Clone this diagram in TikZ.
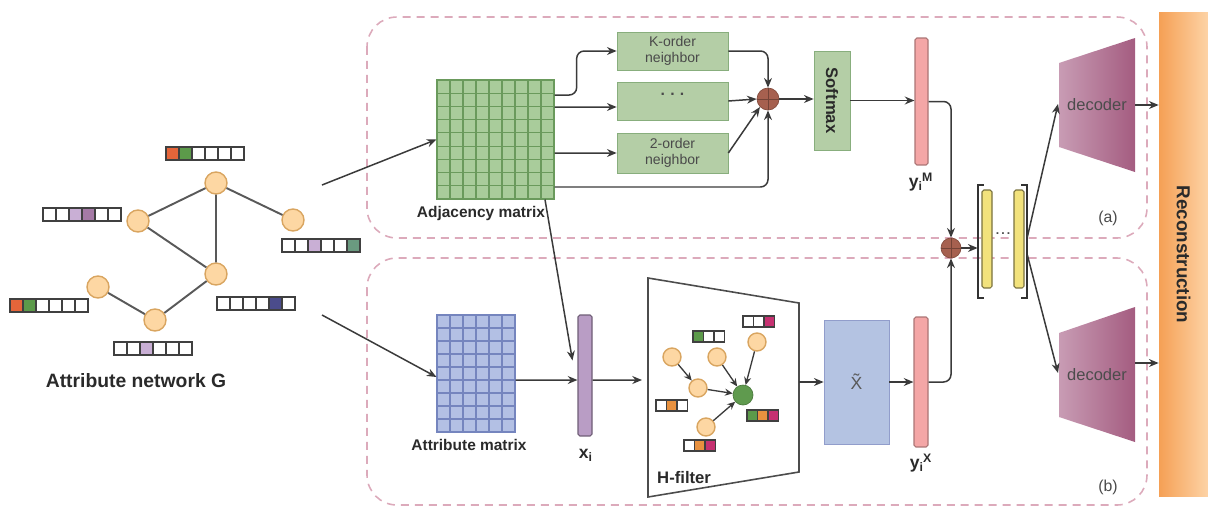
\documentclass[tikz,border=0pt]{standalone}
\usepackage{fontspec}
\setmainfont{Liberation Sans}
\usepackage{amsmath}
\usepackage{tikz}
\usetikzlibrary{arrows.meta}

\definecolor{arrowgray}{HTML}{3A3A3A}
\definecolor{lblgray}{HTML}{2A2A2A}
\definecolor{txtgray}{HTML}{4A4A4A}
\definecolor{framepink}{HTML}{DCAABB}
\definecolor{nodeorange}{HTML}{FDD7A3}
\definecolor{nodeedge}{HTML}{D9A560}
\definecolor{nodegreen}{HTML}{5F9A4E}
\definecolor{adjgreen}{HTML}{A9CC9B}
\definecolor{adjline}{HTML}{6A9A5C}
\definecolor{boxgreen}{HTML}{B4CEA6}
\definecolor{attrblue}{HTML}{B3C0E4}
\definecolor{attrline}{HTML}{7585BE}
\definecolor{xtblue}{HTML}{B4C3E2}
\definecolor{barpink}{HTML}{F4A6A6}
\definecolor{barpurple}{HTML}{B99DC5}
\definecolor{catyellow}{HTML}{F2E27C}
\definecolor{opbrown}{HTML}{A6604F}
\definecolor{decl}{HTML}{C89CB4}
\definecolor{decr}{HTML}{A45C80}
\definecolor{recl}{HTML}{F5A055}
\definecolor{recr}{HTML}{FDD3A6}
\definecolor{vred}{HTML}{E5653A}
\definecolor{vgreen}{HTML}{5C9A4A}
\definecolor{vlpurple}{HTML}{C9AFD5}
\definecolor{vpurple}{HTML}{A57AA6}
\definecolor{vteal}{HTML}{6A9A80}
\definecolor{vblue}{HTML}{4B4C8C}
\definecolor{vorange}{HTML}{E8913F}
\definecolor{vmagenta}{HTML}{C63171}

\begin{document}
\begin{tikzpicture}[x=0.02cm, y=-0.02cm,
    conn/.style={draw=arrowgray, line width=0.85pt, -{Stealth[length=5.5pt,width=4.5pt]}},
    elbow/.style={conn, rounded corners=0.15cm},
    thinconn/.style={draw=arrowgray, line width=0.75pt, -{Stealth[length=4.5pt,width=4pt]}},
    frame/.style={draw=framepink, line width=0.9pt, dash pattern=on 0.16cm off 0.12cm, rounded corners=0.6cm},
    gnode/.style={circle, fill=nodeorange, draw=nodeedge, line width=0.8pt, minimum size=0.44cm, inner sep=0},
    gedge/.style={draw=black!65, line width=1.1pt},
    cell/.style={draw=black!75, line width=0.6pt},
    lbl/.style={font=\bfseries\fontsize{8.8}{10}\selectfont, text=lblgray},
    greenbox/.style={draw=adjline!80, fill=boxgreen, inner sep=0, align=center,
        minimum width=2.22cm, font=\fontsize{8}{9.5}\selectfont, text=txtgray},
    bar/.style={rectangle, rounded corners=1pt, inner sep=0, line width=0.6pt},
    oplus/.style={circle, fill=opbrown, draw=opbrown!80!black, inner sep=0, minimum size=0.44cm},
    dectext/.style={font=\fontsize{9.4}{11}\selectfont, text=black!70}
]
\useasboundingbox (0,0) rectangle (1208,508);

% Dashed frames (a) and (b)
\draw[frame] (367,17) rectangle (1147,238);
\draw[frame] (367,258) rectangle (1147,505);
\node[font=\fontsize{9}{11}\selectfont, text=txtgray] (tagA) at (1108,218) {(a)};
\node[font=\fontsize{9}{11}\selectfont, text=txtgray] (tagB) at (1108,487) {(b)};

% Attribute network
\node[gnode] (gA) at (216,183) {};
\node[gnode] (gB) at (138,221) {};
\node[gnode] (gC) at (293,220) {};
\node[gnode] (gD) at (216,274) {};
\node[gnode] (gE) at (98,287) {};
\node[gnode] (gF) at (155,320) {};
\draw[gedge] (gA) -- (gB) (gA) -- (gC) (gA) -- (gD) (gB) -- (gD) (gD) -- (gF) (gE) -- (gF);

% Node attribute vectors
\foreach \c [count=\i from 0] in {vred,vgreen,white,white,white,white}
    \draw[cell, fill=\c] (166+13*\i,147) rectangle ++(13,13);
\foreach \c [count=\i from 0] in {white,white,vlpurple,vpurple,white,white}
    \draw[cell, fill=\c] (43+13*\i,208) rectangle ++(13,13);
\foreach \c [count=\i from 0] in {white,white,vlpurple,white,white,vteal}
    \draw[cell, fill=\c] (282+13*\i,239) rectangle ++(13,13);
\foreach \c [count=\i from 0] in {white,white,white,white,vblue,white}
    \draw[cell, fill=\c] (217+13*\i,297) rectangle ++(13,13);
\foreach \c [count=\i from 0] in {vred,vgreen,white,white,white,white}
    \draw[cell, fill=\c] (10+13*\i,299) rectangle ++(13,13);
\foreach \c [count=\i from 0] in {white,white,vlpurple,white,white,white}
    \draw[cell, fill=\c] (114+13*\i,342) rectangle ++(13,13);
\node[lbl, font=\bfseries\fontsize{11}{13}\selectfont] (gname) at (136,381) {Attribute network G};

\coordinate (gT) at (322,185);
\coordinate (gBt) at (322,315);

% Adjacency matrix
\node[draw=adjline, fill=adjgreen, line width=0.6pt, inner sep=0,
    minimum width=2.34cm, minimum height=2.38cm] (adj) at (495.5,139.5) {};
\foreach \i in {1,...,8} {
    \draw[adjline, line width=0.6pt] (437+13*\i,80) -- (437+13*\i,199);
    \draw[adjline, line width=0.6pt] (437,80+13.22*\i) -- (554,80+13.22*\i);
}
\node[lbl] (adjname) at (481,213) {Adjacency matrix};

% Attribute matrix
\node[draw=attrline, fill=attrblue, line width=0.6pt, inner sep=0,
    minimum width=1.56cm, minimum height=2.34cm] (attr) at (476,373.5) {};
\foreach \i in {1,...,5}
    \draw[attrline, line width=0.6pt] (437+13*\i,315) -- (437+13*\i,432);
\foreach \j in {1,...,8}
    \draw[attrline, line width=0.6pt] (437,315+13*\j) -- (515,315+13*\j);
\node[lbl] (attrname) at (469,445) {Attribute matrix};

% Neighbour branches
\node[greenbox, minimum height=0.76cm] (kord) at (672.5,51) {K-order\\neighbor};
\node[greenbox, minimum height=0.76cm, anchor=center] (dots) at (672.5,101) {};
\node[font=\bfseries\fontsize{9}{10}\selectfont, text=txtgray] (dotstext) at (672.5,94) {.\,\,.\,\,.};
\node[greenbox, minimum height=0.8cm] (sord) at (672.5,153) {2-order\\neighbor};
\node[oplus] (oplusT) at (768,99) {};
\draw[opbrown!70!black, line width=0.3pt] (oplusT.north) -- (oplusT.south) (oplusT.west) -- (oplusT.east);
\node[greenbox, minimum width=0.72cm, minimum height=1.98cm, text=lblgray] (soft) at (832,100.5)
    {\rotatebox{-90}{\bfseries\fontsize{9.5}{11}\selectfont Softmax}};
\node[bar, fill=barpink, draw=barpink!70!black, minimum width=0.26cm, minimum height=2.54cm] (yM) at (921.5,101.5) {};
\node[lbl, font=\bfseries\fontsize{10}{12}\selectfont] (yMname) at (921,182) {y$_\text{i}$\kern-0.05em$^\text{M}$};

% Attribute branch
\node[bar, fill=barpurple, draw=barpurple!60!black, minimum width=0.28cm, minimum height=2.42cm] (xi) at (585,375.5) {};
\node[lbl, font=\bfseries\fontsize{10}{12}\selectfont] (xiname) at (586,455) {x$_\text{i}$};

% H-filter
\draw[draw=black!70, line width=0.9pt] (648,278) -- (799,303) -- (799,472) -- (648,497) -- cycle;
\coordinate (hfW) at (648,380);
\coordinate (hfE) at (799,382);
\node[lbl, font=\bfseries\fontsize{9.5}{11}\selectfont, anchor=west] (hfname) at (651,478) {H-filter};
\node[gnode, minimum size=0.36cm] (h1) at (672,357) {};
\node[gnode, minimum size=0.36cm] (h2) at (717,357) {};
\node[gnode, minimum size=0.36cm] (h3) at (757,342) {};
\node[gnode, minimum size=0.36cm] (h4) at (698,388) {};
\node[gnode, minimum size=0.36cm] (h5) at (706,427) {};
\node[circle, fill=nodegreen, draw=nodegreen!80!black, inner sep=0, minimum size=0.4cm] (hc) at (743,395) {};
\draw[thinconn] (h1) -- (h4);
\draw[thinconn] (h4) -- (hc);
\draw[thinconn] (h2) -- (hc);
\draw[thinconn] (h3) -- (hc);
\draw[thinconn] (h5) -- (hc);
\foreach \c [count=\i from 0] in {vgreen,white,white}
    \draw[cell, fill=\c] (693+10.5*\i,331) rectangle ++(10.5,11);
\foreach \c [count=\i from 0] in {white,white,vmagenta}
    \draw[cell, fill=\c] (743+10.5*\i,316) rectangle ++(10.5,11);
\foreach \c [count=\i from 0] in {white,vorange,white}
    \draw[cell, fill=\c] (656+10.5*\i,400) rectangle ++(10.5,11);
\foreach \c [count=\i from 0] in {white,vorange,vmagenta}
    \draw[cell, fill=\c] (684+10.5*\i,440) rectangle ++(10.5,11);
\foreach \c [count=\i from 0] in {vgreen,vorange,vmagenta}
    \draw[cell, fill=\c] (747+10.5*\i,410) rectangle ++(10.5,11);

% Reconstructed features
\node[draw=attrline!80, fill=xtblue, inner sep=0, minimum width=1.3cm, minimum height=2.48cm,
    font=\fontsize{10}{12}\selectfont, text=black!65] (xt) at (856.5,382) {\~{X}};
\node[bar, fill=barpink, draw=barpink!70!black, minimum width=0.28cm, minimum height=2.6cm] (yX) at (921,382) {};
\node[lbl, font=\bfseries\fontsize{10}{12}\selectfont] (yXname) at (921,463) {y$_\text{i}$\kern-0.05em$^\text{X}$};

% Fusion and concatenation
\node[oplus, minimum size=0.4cm] (oplusB) at (951,248) {};
\draw[opbrown!70!black, line width=0.3pt] (oplusB.north) -- (oplusB.south) (oplusB.west) -- (oplusB.east);
\node[inner sep=0, minimum width=0.98cm, minimum height=2.26cm] (cat) at (1002.5,241.5) {};
\draw[black!80, line width=1.1pt] ([xshift=0.12cm]cat.north west) -- (cat.north west) -- (cat.south west) -- ([xshift=0.12cm]cat.south west);
\draw[black!80, line width=1.1pt] ([xshift=-0.12cm]cat.north east) -- (cat.north east) -- (cat.south east) -- ([xshift=-0.12cm]cat.south east);
\node[bar, fill=catyellow, draw=catyellow!50!black, minimum width=0.2cm, minimum height=1.96cm] (cat1) at (987,239) {};
\node[bar, fill=catyellow, draw=catyellow!50!black, minimum width=0.2cm, minimum height=1.96cm] (cat2) at (1019,239) {};
\node[font=\bfseries\fontsize{7}{8}\selectfont, text=black!70] (catdots) at (1003,234) {.\,.\,.};

% Decoders
\shade[left color=decl, right color=decr] (1059,63) -- (1135,38) -- (1135,172) -- (1059,147) -- cycle;
\node[dectext] (decTname) at (1097,105) {decoder};
\coordinate (decTin) at (1058,104);
\coordinate (decTout) at (1135,105);
\shade[left color=decl, right color=decr] (1059,333) -- (1135,307) -- (1135,442) -- (1059,417) -- cycle;
\node[dectext] (decBname) at (1097,375) {decoder};
\coordinate (decBin) at (1058,373);
\coordinate (decBout) at (1135,363);

% Reconstruction
\node[left color=recl, right color=recr, inner sep=0, minimum width=0.98cm, minimum height=9.7cm,
    text=lblgray] (recon) at (1183.5,254.5) {\rotatebox{-90}{\bfseries\fontsize{10.7}{12}\selectfont Reconstruction}};

% Connectors
\draw[conn] (gT) -- (adj.west);
\draw[conn] (gBt) -- ([yshift=-0.07cm]attr.west);
\draw[elbow] ([yshift=0.89cm]adj.east) -| ([xshift=-0.8cm]kord.west) -- (kord.west);
\draw[conn] ([yshift=0.65cm]adj.east) -- ([yshift=-0.12cm]dots.west);
\draw[conn] ([yshift=-0.27cm]adj.east) -- (sord.west);
\draw[elbow] ([yshift=-0.95cm]adj.east) -| (oplusT.south);
\draw[elbow] (kord.east) -| (oplusT.north);
\draw[conn] (dots.east) -- (oplusT.west);
\draw[conn] (sord.east) -- (oplusT.south west);
\draw[conn] (oplusT.east) -- (soft.west |- oplusT.east);
\draw[conn] (soft.east) -- (soft.east -| yM.west);
\draw[elbow] (yM.east) -| (oplusB.north);
\draw[conn] ([xshift=0.99cm]adj.south) -- ([xshift=-0.1cm,yshift=0.3cm]xi.west);
\draw[conn] ([yshift=-0.13cm]attr.east) -- ([yshift=-0.09cm]xi.west);
\draw[conn, shorten >=0.12cm] ([yshift=-0.09cm]xi.east) -- (hfW);
\draw[conn] (hfE) -- (xt.west);
\draw[conn] (xt.east) -- (yX.west);
\draw[elbow] (yX.east) -| (oplusB.south);
\draw[conn] (oplusB.east) -- (oplusB.east -| cat.west);
\draw[conn] ([yshift=0.09cm]cat.east) -- (decTin);
\draw[conn] ([yshift=-0.27cm]cat.east) -- (decBin);
\draw[conn] (decTout) -- (decTout -| recon.west);
\draw[conn] (decBout) -- (decBout -| recon.west);
\end{tikzpicture}
\end{document}
